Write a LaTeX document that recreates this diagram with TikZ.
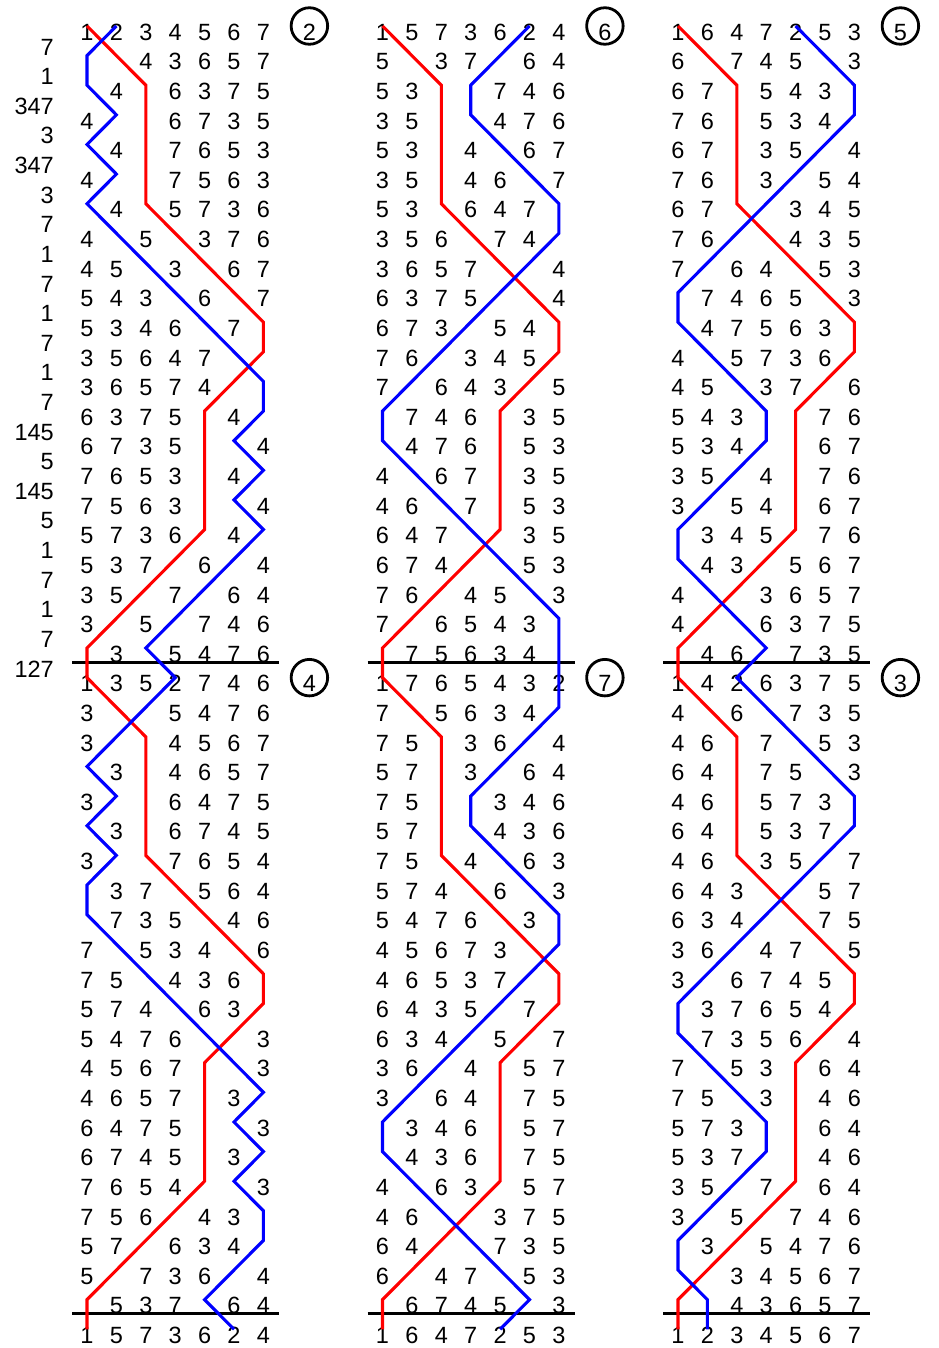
\documentclass[tikz,border=0pt]{standalone}
\usepackage{fontspec}
\setmainfont{Liberation Sans}

\begin{document}
\begin{tikzpicture}[x=1pt,y=-1pt,
  num/.style={anchor=base,inner sep=0pt,font=\fontsize{23.5}{27}\selectfont},
  pn/.style={num,anchor=base east},
  trackone/.style={line width=3.1pt,red},
  tracktwo/.style={line width=3.1pt,blue},
  leadend/.style={line width=3pt,black},
  lhmark/.style={num,circle,draw,line width=2.8pt,minimum size=36.5pt,text height=28.5pt,text depth=0pt}
]
\useasboundingbox (0,0) rectangle (938,1348);
\def\dx{29.4}
\def\dy{29.62}
\def\cx{295.5}
% rows of the first lead, as positions in the lead head
\def\leadrows{{1,2,3,4,5,6,7},{2,1,4,3,6,5,7},{2,4,1,6,3,7,5},{4,2,1,6,7,3,5},
  {2,4,1,7,6,5,3},{4,2,1,7,5,6,3},{2,4,1,5,7,3,6},{4,2,5,1,3,7,6},
  {4,5,2,3,1,6,7},{5,4,3,2,6,1,7},{5,3,4,6,2,7,1},{3,5,6,4,7,2,1},
  {3,6,5,7,4,1,2},{6,3,7,5,1,4,2},{6,7,3,5,1,2,4},{7,6,5,3,1,4,2},
  {7,5,6,3,1,2,4},{5,7,3,6,1,4,2},{5,3,7,1,6,2,4},{3,5,1,7,2,6,4},
  {3,1,5,2,7,4,6},{1,3,2,5,4,7,6},{1,3,5,2,7,4,6}}

% place notation
\foreach \p [count=\kk from 0] in {7,1,347,3,347,3,7,1,7,1,7,1,7,145,5,145,5,1,7,1,7,127}{
  \node[pn] (pn\kk) at (54,{40.25+\dy*(\kk+0.5)}) {\p};
}

% the six leads
\foreach \lh [count=\n from 0] in {{1,2,3,4,5,6,7},{1,3,5,2,7,4,6},{1,5,7,3,6,2,4},
    {1,7,6,5,4,3,2},{1,6,4,7,2,5,3},{1,4,2,6,3,7,5}}{
  \pgfmathtruncatemacro\col{div(\n,2)}
  \pgfmathtruncatemacro\half{mod(\n,2)}
  \foreach \rw [count=\kk from 0] in \leadrows {
    \pgfmathtruncatemacro\row{22*\half+\kk}
    \pgfmathtruncatemacro\skiprow{(\half==0)&&(\kk==22)}
    \ifnum\skiprow=0
    \foreach \bb [count=\pos] in \rw {
      \pgfmathtruncatemacro\bell{{\lh}[\bb-1]}
      \pgfmathsetmacro\xx{87+\cx*\col+\dx*(\pos-1)}
      \pgfmathsetmacro\yy{40.25+\dy*\row}
      \pgfmathtruncatemacro\shown{(\bell>2)||(\kk==0)||(\kk==22)}
      \ifnum\shown=1 \node[num] (d\col-\row-\pos) at (\xx,\yy) {\bell};\fi
      \ifnum\bell<3 \coordinate (t\bell-\col-\row) at (\xx,\yy-14.25);\fi
    }
    \fi
  }
}

% lead ends
\foreach \col in {0,1,2}{
  \foreach \row in {21,43}{
    \draw[leadend] ({72+\cx*\col},{40.25+\dy*\row}) -- ({279+\cx*\col},{40.25+\dy*\row});
  }
}

% paths of bells 1 and 2
\foreach \col in {0,1,2}{
  \draw[trackone] (t1-\col-0) \foreach \row in {1,...,44}{ -- (t1-\col-\row)};
  \draw[tracktwo] (t2-\col-0) \foreach \row in {1,...,44}{ -- (t2-\col-\row)};
}

% place of the 2 at each lead head
\foreach \col/\ma/\mb in {0/2/4,1/6/7,2/5/3}{
  \node[lhmark] (mk\col-0) at ({87+\cx*\col+6*\dx+46},40.25) {\ma};
  \node[lhmark] (mk\col-22) at ({87+\cx*\col+6*\dx+46},{40.25+22*\dy}) {\mb};
}
\end{tikzpicture}
\end{document}
